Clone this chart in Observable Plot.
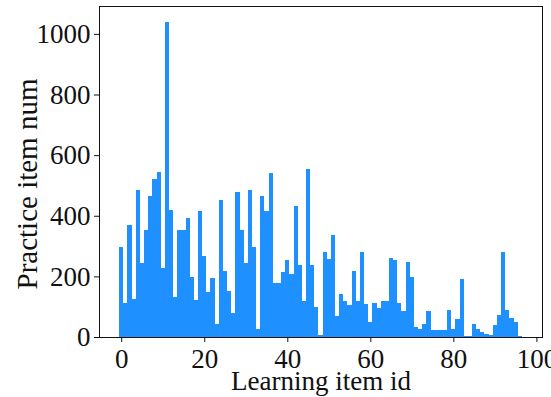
<!DOCTYPE html>
<html>
<head>
<meta charset="utf-8">
<script src="https://cdn.jsdelivr.net/npm/d3@7"></script>
<script src="https://cdn.jsdelivr.net/npm/@observablehq/plot@0.6"></script>
<style>
  html, body { margin: 0; padding: 0; background: #fff; }
</style>
</head>
<body>
<div id="chart"></div>
<script>
// Learning item ids 0..96 and practice item counts
const itemIds = d3.range(0, 97);
const practiceCounts = [
  297, 113, 370, 126, 486, 244, 353, 464, 522, 544,
  226, 1040, 418, 133, 353, 353, 393, 199, 123, 416,
  266, 150, 195, 43, 451, 217, 153, 78, 477, 353,
  244, 486, 298, 27, 464, 415, 540, 177, 177, 215,
  253, 208, 431, 239, 118, 553, 239, 100, 5, 280,
  258, 338, 70, 141, 118, 106, 217, 118, 280, 109,
  50, 113, 96, 118, 118, 262, 253, 113, 86, 248,
  199, 33, 27, 42, 87, 23, 23, 23, 23, 90,
  25, 59, 190, 4, 4, 42, 28, 15, 10, 6,
  40, 73, 279, 89, 64, 50, 4
];
const xTicks = [0, 20, 40, 60, 80, 100];
const yTicks = [0, 200, 400, 600, 800, 1000];
const xLabel = "Learning item id";
const yLabel = "Practice item num";

const data = itemIds.map((id, i) => ({id, count: practiceCounts[i]}));

const chart = Plot.plot({
  width: 551,
  height: 397,
  marginLeft: 99,
  marginRight: 9,
  marginTop: 6,
  marginBottom: 60,
  style: {fontFamily: "'Liberation Serif', 'DejaVu Serif', serif", fontSize: "27px", color: "#111", background: "#fff"},
  x: {domain: [-5.35, 101.35], axis: null},
  y: {domain: [0, 1092], axis: null},
  marks: [
    Plot.rectY(data, {x1: d => d.id - 0.5, x2: d => d.id + 0.5, y1: 0, y2: "count", fill: "#1E90FF", shapeRendering: "crispEdges"}),
    Plot.frame({stroke: "#111", strokeWidth: 1}),
    Plot.axisX(xTicks, {tickSize: 5, tickPadding: 6, stroke: "#111", fill: "#111", label: null, tickFormat: d => String(d)}),
    Plot.axisY(yTicks, {tickSize: 5, tickPadding: 4, stroke: "#111", fill: "#111", label: null, tickFormat: d => String(d)}),
    Plot.text([xLabel], {frameAnchor: "bottom", textAnchor: "middle", lineAnchor: "bottom", dy: 52, fill: "#111"}),
    Plot.text([yLabel], {frameAnchor: "left", textAnchor: "middle", rotate: -90, dx: -72, dy: 12, fontSize: 29, fill: "#111"})
  ]
});
document.getElementById("chart").appendChild(chart);
</script>
</body>
</html>
